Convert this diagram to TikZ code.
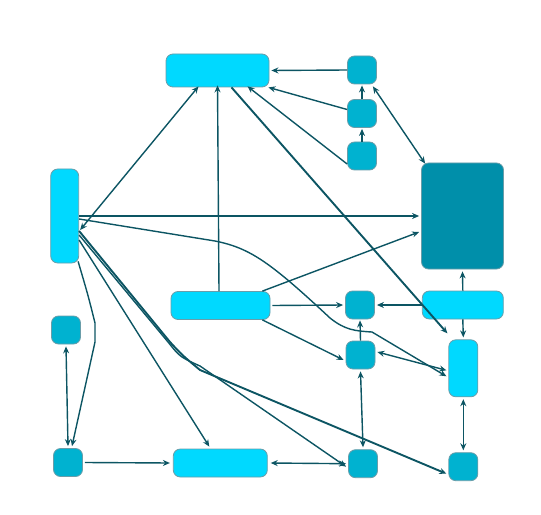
\documentclass[tikz,border=0pt]{standalone}
\usetikzlibrary{arrows.meta}
\definecolor{bright}{HTML}{00D9FF}
\definecolor{mid}{HTML}{00B2D0}
\definecolor{darkbox}{HTML}{008FAA}
\definecolor{edgec}{HTML}{0C5563}
\definecolor{bord}{HTML}{6A9DA9}
\begin{document}
\begin{tikzpicture}[x=1bp,y=-1bp,
  box/.style={draw=bord,line width=0.8bp,rounded corners=7bp,inner sep=0pt},
  bbox/.style={box,fill=bright},
  sbox/.style={box,fill=mid,minimum width=29bp,minimum height=28bp},
  con/.style={draw=edgec,line width=1.4bp,-{Stealth[length=7bp,width=6bp]}},
  con2/.style={draw=edgec,line width=1.4bp,{Stealth[length=7bp,width=6bp]}-{Stealth[length=7bp,width=6bp]}},
  thick con/.style={con,line width=1.9bp}]
\useasboundingbox (0,0) rectangle (541,515);
% nodes
\node[bbox,minimum width=103bp,minimum height=33bp] (T) at (217.5,70.5) {};
\node[sbox] (S1) at (362,70) {};
\node[sbox] (S2) at (362,113.5) {};
\node[sbox] (S3) at (362,156) {};
\node[box,fill=darkbox,minimum width=82bp,minimum height=106bp] (B) at (462.5,216) {};
\node[bbox,minimum width=28bp,minimum height=94bp] (L) at (64.7,216) {};
\node[bbox,minimum width=99bp,minimum height=28bp] (M) at (220.5,305.5) {};
\node[sbox] (SL) at (66,330) {};
\node[sbox] (BL) at (68,462.5) {};
\node[bbox,minimum width=94bp,minimum height=28bp] (BM) at (220.3,463) {};
\node[sbox] (R1) at (360,305) {};
\node[sbox] (R2) at (360.5,355) {};
\node[sbox] (R3) at (363,463.7) {};
\node[bbox,minimum width=81bp,minimum height=28bp] (RW) at (462.8,305) {};
\node[bbox,minimum width=29bp,minimum height=57bp] (RT) at (463.3,368.3) {};
\node[sbox] (RB) at (463.3,466.7) {};
% helper coordinates
\coordinate (c1) at (215,241);
\coordinate (c2) at (330,318);
\coordinate (c3) at (372,332);
\coordinate (d1) at (95,323);
\coordinate (d2) at (95,342);
\coordinate (e1) at (168,342);
\coordinate (e2) at (200,366);
% edges
\draw[con] (S1.west) -- ([xshift=2bp]T.east);
\draw[con] (S2.west) ++(0,-4) -- ([xshift=-1bp]T.south east);
\draw[con] ([yshift=-8bp]S3.west) -- ([xshift=30bp,yshift=1bp]T.south);
\draw[con] (S2.north) -- ([yshift=-1bp]S1.south);
\draw[con] (S3.north) -- ([yshift=-1bp]S2.south);
\draw[con2] ([xshift=-4bp,yshift=-2bp]S1.south east) -- ([xshift=4bp,yshift=-1bp]B.north west);
\draw[con2] ([xshift=-19bp,yshift=1bp]T.south) -- ([xshift=1bp,yshift=-14bp]L.east);
\draw[con] (M.north) ++(-1.5,0) -- ([yshift=2bp]T.south);
\draw[thick con] ([xshift=14bp]T.south) -- ([xshift=-1bp,yshift=6bp]RT.north west);
\draw[thick con] (L.east) -- ([xshift=-2bp]B.west);
\draw[con] ([yshift=-3bp]L.east) -- (c1) .. controls (250,248) and (270,262) .. (c2) .. controls (345,330) and (355,331) .. (c3) -- ([xshift=-2bp,yshift=-8bp]RT.west);
\draw[con] ([xshift=-8bp]M.north east) -- ([xshift=-2bp]B.west |- 0,232);
\draw[con] (M.east) ++(2,0) -- ([xshift=-2bp]R1.west);
\draw[con] ([xshift=-8bp]M.south east) -- ([xshift=-2bp,yshift=-5bp]R2.west);
\draw[con] (RW.west) -- ([xshift=2bp]R1.east);
\draw[con] (RW.north) -- ([yshift=-2bp]B.south);
\draw[con] (RW.south) -- ([yshift=2bp]RT.north);
\draw[con] (R2.north) -- ([yshift=-1bp]R1.south);
\draw[con2] ([xshift=2bp,yshift=3bp]R2.east) -- ([xshift=-2bp,yshift=-2bp]RT.west);
\draw[con2] ([yshift=-2bp]R2.south) -- ([yshift=2bp]R3.north);
\draw[con2] ([yshift=-2bp]RT.south) -- ([yshift=2bp]RB.north);
\draw[con2] ([xshift=3bp]BM.east) -- ([xshift=-2bp]R3.west);
\draw[con] ([xshift=2bp]BL.east) -- ([xshift=-3bp]BM.west);
\draw[con2] ([yshift=-2bp]SL.south) -- ([yshift=2bp]BL.north);
\draw[con] ([xshift=-1bp]L.south east) ++(0,-2) .. controls (88,295) .. (d1) -- (d2) -- ([xshift=4bp,yshift=2bp]BL.north);
\draw[con] ([yshift=-24bp]L.east) -- ([xshift=-11bp,yshift=2bp]BM.north);
\draw[con] ([yshift=-19bp]L.east) -- (e1) .. controls (180,357) .. (e2) -- ([xshift=-2bp,yshift=-3bp]R3.west);
\draw[thick con] ([yshift=-15bp]L.east) -- ([xshift=2bp]e1) .. controls (182,355) .. ([yshift=-4bp]e2) -- ([xshift=-2bp,yshift=-7bp]RB.west);
\end{tikzpicture}
\end{document}
